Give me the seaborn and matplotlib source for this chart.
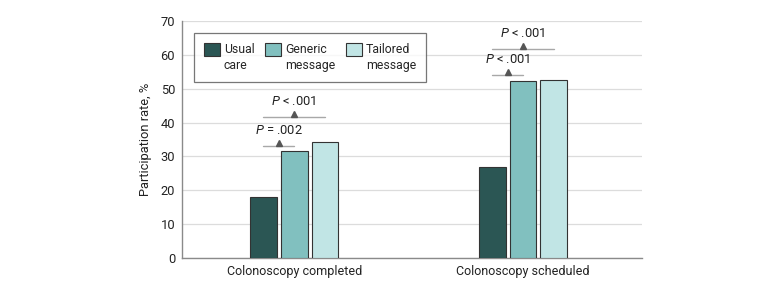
import numpy as np
import pandas as pd
import matplotlib
matplotlib.use("Agg")
import matplotlib.pyplot as plt
from matplotlib.patches import Rectangle
from matplotlib.legend_handler import HandlerPatch
import seaborn as sns

# data
outcomes = ["Colonoscopy completed", "Colonoscopy scheduled"]
arms = ["Usual\ncare", "Generic\nmessage", "Tailored\nmessage"]
usual_care = [18.0, 26.9]
generic_msg = [31.6, 52.3]
tailored_msg = [34.3, 52.6]
colors = ["#2b5654", "#81c0bf", "#c1e5e5"]

# p-value brackets: usual care vs arm p_to, within group p_groups
p_labels = ["$P$ = .002", "$P$ < .001", "$P$ < .001", "$P$ < .001"]
p_groups = [0, 0, 1, 1]
p_to = [1, 2, 1, 2]
p_y = [33.1, 41.6, 54.0, 61.7]

df = pd.DataFrame({
    "outcome": np.repeat(outcomes, 3),
    "arm": arms * 2,
    "rate": [usual_care[0], generic_msg[0], tailored_msg[0],
             usual_care[1], generic_msg[1], tailored_msg[1]],
})

FONT = "Roboto"
sns.set_style("white")
plt.rcParams["font.family"] = [FONT, "DejaVu Sans"]
plt.rcParams["mathtext.fontset"] = "custom"
plt.rcParams["mathtext.it"] = FONT + ":italic"
plt.rcParams["mathtext.rm"] = FONT

fig = plt.figure(figsize=(7.8, 2.97), dpi=100)
ax = fig.add_axes([182 / 780, 1 - 258 / 297, 460 / 780, 237 / 297])

sns.barplot(data=df, x="outcome", y="rate", hue="arm", palette=colors,
            saturation=1, width=0.405, gap=0.13, edgecolor="#333333",
            linewidth=0.8, ax=ax, zorder=3)

ax.set_xlim(-0.49, 1.52)
ax.set_ylim(0, 70)
ax.set_yticks(range(0, 71, 10))
ax.yaxis.grid(True, color="#dcdcdc", linewidth=0.9, zorder=0)
ax.set_axisbelow(True)
for s in ["top", "right"]:
    ax.spines[s].set_visible(False)
for s in ["left", "bottom"]:
    ax.spines[s].set_color("#8a8a8a")
    ax.spines[s].set_linewidth(1.0)
ax.tick_params(axis="y", length=3.5, color="#8a8a8a", labelsize=9.3,
               labelcolor="#222222", pad=1.5)
ax.tick_params(axis="x", length=0, labelsize=9, labelcolor="#222222", pad=5)
ax.set_xlabel("")
ax.set_ylabel("Participation rate, %", fontsize=9.3, color="#222222", labelpad=6)

# bar centres from the drawn patches
centres = {}
for i, cont in enumerate(ax.containers):
    for j, patch in enumerate(cont):
        centres[(j, i)] = patch.get_x() + patch.get_width() / 2

for lab, g, t, y in zip(p_labels, p_groups, p_to, p_y):
    x0 = centres[(g, 0)]
    x1 = centres[(g, t)]
    xm = (x0 + x1) / 2
    ax.plot([x0, x1], [y, y], color="#a8a8a8", linewidth=1.0, zorder=4)
    ax.plot(xm, y + 0.9, marker="^", color="#555555", markersize=5, zorder=5)
    ax.text(xm, y + 4.7, lab, ha="center", va="center", fontsize=9.3,
            color="#222222", zorder=5)


# legend swatches sit level with the first line of each label
def top_patch(legend, orig_handle, xdescent, ydescent, width, height, fontsize):
    return Rectangle((-xdescent, -ydescent + 0.75 * fontsize), width, height)


leg = ax.legend(loc="upper left", bbox_to_anchor=(12 / 460, 225 / 237),
                ncol=3, frameon=True, fontsize=8.8, handlelength=1.3,
                handleheight=1.3, handletextpad=0.35, columnspacing=0.85,
                borderpad=0.8, borderaxespad=0, fancybox=False, title=None,
                handler_map={Rectangle: HandlerPatch(patch_func=top_patch)})
for t in leg.get_texts():
    t.set_linespacing(1.35)
leg.get_frame().set_edgecolor("#555555")
leg.get_frame().set_linewidth(0.9)

fig.savefig("out.png", dpi=100)
